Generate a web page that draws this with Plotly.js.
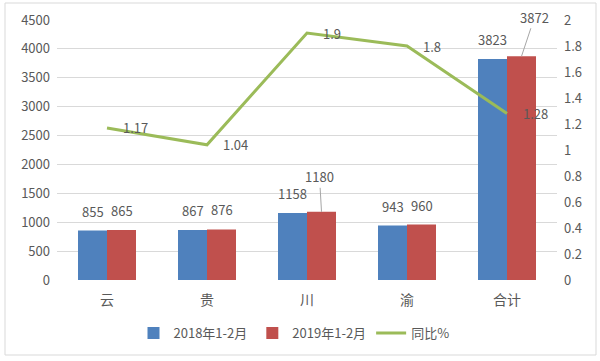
<!DOCTYPE html>
<html><head><meta charset="utf-8">
<script src="https://cdn.plot.ly/plotly-3.0.1.min.js"></script>
<style>html,body{margin:0;padding:0;background:#fff;}#chart{width:600px;height:361px;}</style>
</head><body><div id="chart"></div>
<script>
const categories = ['云', '贵', '川', '渝', '合计'];
const series2018 = [855, 867, 1158, 943, 3823];
const series2019 = [865, 876, 1180, 960, 3872];
const ratio = [1.17, 1.04, 1.9, 1.8, 1.28];
const seriesNames = ['2018年1-2月', '2019年1-2月', '同比%'];

const FONT = '"Noto Sans CJK SC", "Noto Sans", sans-serif';
const TXT = '#595959';
const bargap = 0.42;
const half = (1 - bargap) / 4; // center offset of each bar in a 2-bar group

const idx = categories.map((c, i) => i);

const traces = [
  {type: 'bar', x: idx, y: series2018, name: seriesNames[0], marker: {color: '#4f81bd'}, hoverinfo: 'y'},
  {type: 'bar', x: idx, y: series2019, name: seriesNames[1], marker: {color: '#c0504d'}, hoverinfo: 'y'},
  {type: 'scatter', mode: 'lines', x: idx, y: ratio, yaxis: 'y2', name: seriesNames[2],
   line: {color: '#9bbb59', width: 3}}
];

const annotations = [];
const lf = {family: FONT, size: 13, color: TXT};
// special leader-line labels (in pixels)
const leader2019 = {2: [-2, -35], 4: [13, -39]};
series2018.forEach((v, i) => {
  annotations.push({x: i - half, y: v, xref: 'x', yref: 'y', text: String(v), showarrow: false,
    yanchor: 'bottom', yshift: 8, font: lf});
});
series2019.forEach((v, i) => {
  if (leader2019[i]) {
    annotations.push({x: i + half, y: v, xref: 'x', yref: 'y', text: String(v), showarrow: true,
      arrowhead: 0, arrowwidth: 1, arrowcolor: '#a6a6a6', ax: leader2019[i][0], ay: leader2019[i][1],
      standoff: 0, font: lf});
  } else {
    annotations.push({x: i + half, y: v, xref: 'x', yref: 'y', text: String(v), showarrow: false,
      yanchor: 'bottom', yshift: 8, font: lf});
  }
});
ratio.forEach((v, i) => {
  annotations.push({x: i, y: v, xref: 'x', yref: 'y2', text: String(v), showarrow: false,
    xanchor: 'left', xshift: 14, font: lf});
});

const layout = {
  width: 600, height: 361,
  margin: {l: 57, r: 43, t: 20, b: 81},
  paper_bgcolor: '#fff', plot_bgcolor: '#fff',
  font: {family: FONT, size: 13, color: TXT},
  barmode: 'group', bargap: bargap, bargroupgap: 0,
  showlegend: true,
  legend: {orientation: 'h', xref: 'container', yref: 'container', x: 0.49, y: 1 - 333 / 361,
    xanchor: 'center', yanchor: 'middle', font: {family: FONT, size: 13, color: TXT}, itemwidth: 30,
    tracegroupgap: 0},
  xaxis: {range: [-0.5, 4.5], tickvals: idx, ticktext: categories, showgrid: false, zeroline: false,
    showline: false, ticks: '', ticklabelstandoff: 10, tickfont: {family: FONT, size: 14, color: TXT}},
  yaxis: {range: [0, 4500], dtick: 500, showgrid: true, gridcolor: '#d9d9d9', gridwidth: 1,
    zeroline: false, showline: false, ticks: '', ticklabelstandoff: 6, tickfont: {family: FONT, size: 13, color: TXT}},
  yaxis2: {range: [0, 2], dtick: 0.2, overlaying: 'y', side: 'right', showgrid: false, zeroline: false,
    showline: false, ticks: '', ticklabelstandoff: 6, tickfont: {family: FONT, size: 13, color: TXT}},
  annotations: annotations,
  shapes: [{type: 'rect', xref: 'paper', yref: 'paper', x0: (5 - 57) / 500, x1: (596 - 57) / 500,
    y0: (280 - 355) / 260, y1: (280 - 3) / 260, line: {color: '#d9d9d9', width: 1}, layer: 'below'}]
};

Plotly.newPlot('chart', traces, layout, {displayModeBar: false, staticPlot: true});
</script></body></html>
